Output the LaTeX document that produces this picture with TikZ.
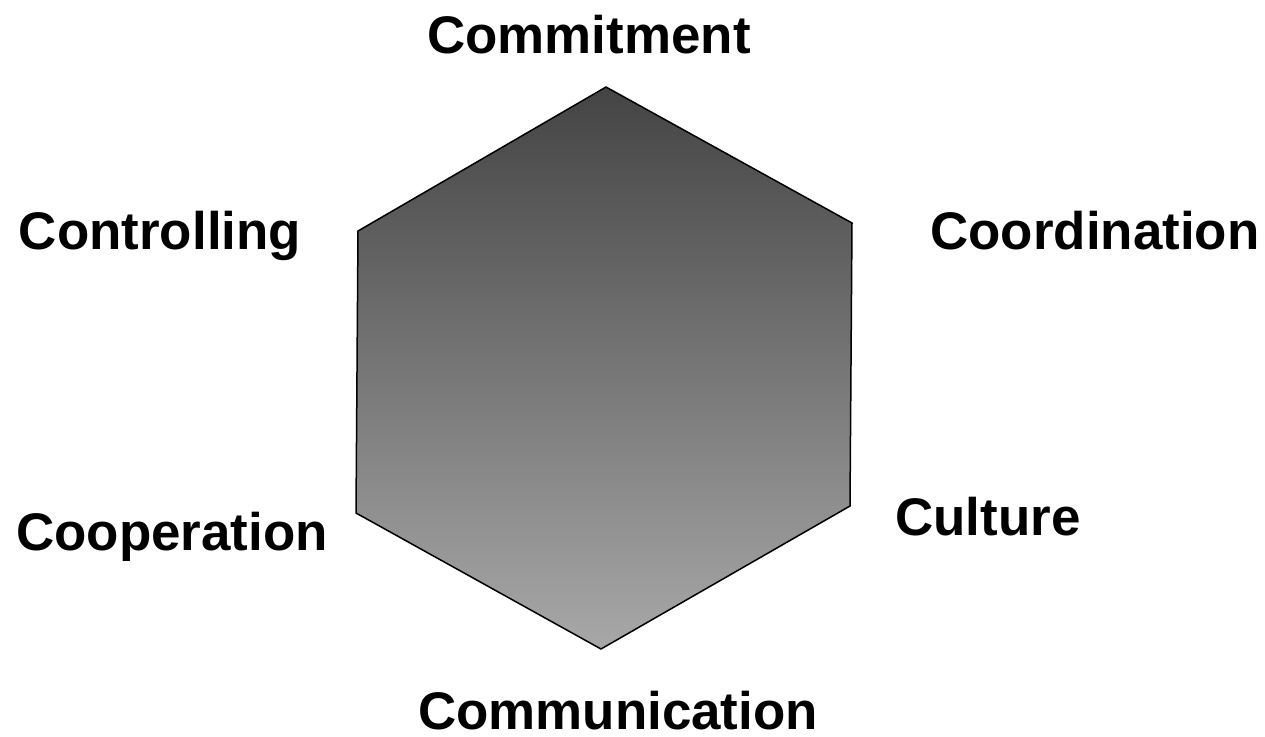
\documentclass[tikz,border=0pt]{standalone}
\usepackage{fontspec}
\setmainfont{Liberation Sans}
\usepackage{tikz}
\usetikzlibrary{positioning}

\definecolor{hextop}{HTML}{444444}
\definecolor{hexbottom}{HTML}{A8A8A8}

\begin{document}
\begin{tikzpicture}[x=0.5pt, y=-0.5pt]

  % Define label styles
  \tikzset{
    factor label/.style={
      anchor=base, inner sep=0pt,
      font=\fontsize{26.45}{30}\selectfont\bfseries
    }
  }

  \useasboundingbox (0,0) rectangle (1265,736);

  % Hexagon corners
  \coordinate (top) at (606,87);
  \coordinate (upright) at (852,223);
  \coordinate (lowright) at (850,506);
  \coordinate (bottom) at (601,649);
  \coordinate (lowleft) at (356,513);
  \coordinate (upleft) at (358,231);

  \draw[line width=0.75pt, line join=miter, top color=hextop, bottom color=hexbottom]
    (top) -- (upright) -- (lowright) -- (bottom) -- (lowleft) -- (upleft) -- cycle;

  % Labels round the hexagon
  \node[factor label] (commitment) at (589,53) {Commitment};
  \node[factor label] (coordination) at (1095,249) {Coordination};
  \node[factor label] (culture) at (988,535) {Culture};
  \node[factor label] (communication) at (618,729) {Communication};
  \node[factor label] (cooperation) at (172,550) {Cooperation};
  \node[factor label] (controlling) at (160,249) {Controlling};

\end{tikzpicture}
\end{document}
